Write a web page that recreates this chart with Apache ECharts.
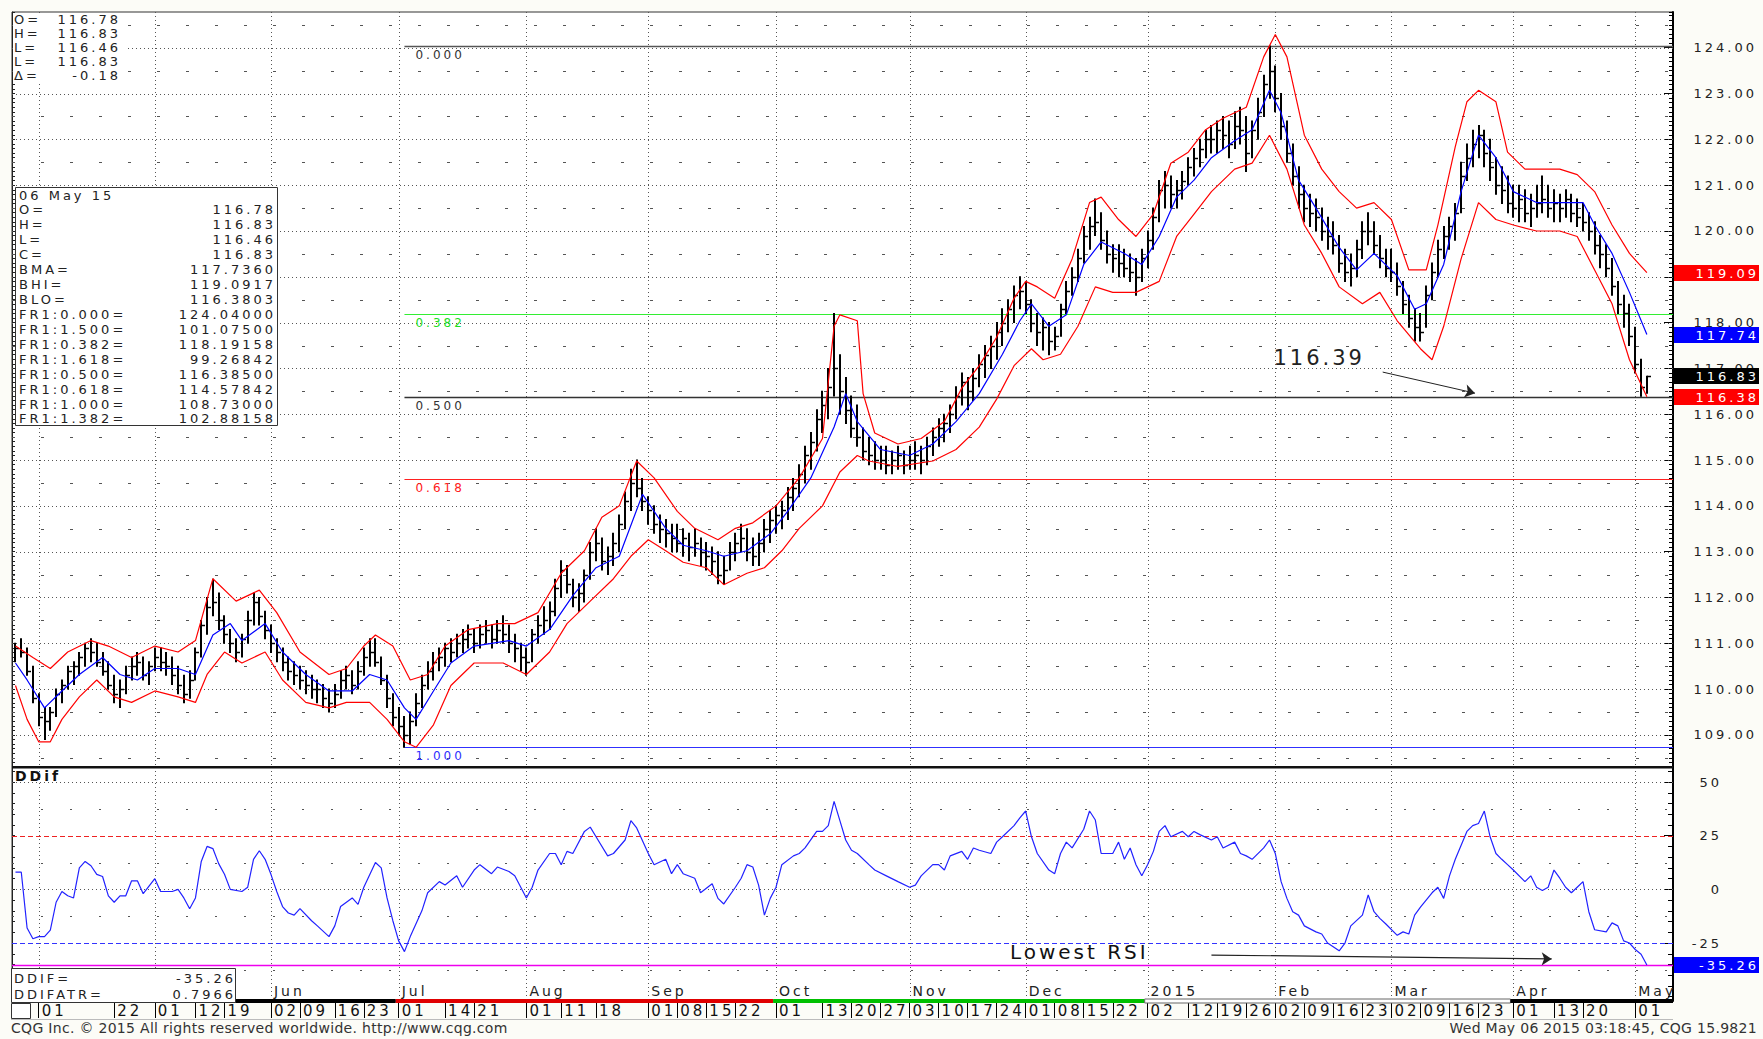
<!DOCTYPE html>
<html>
<head>
<meta charset="utf-8">
<script src="https://cdn.jsdelivr.net/npm/echarts@6.0.0/dist/echarts.min.js"></script>
<style>
html, body { margin: 0; padding: 0; background: #fcfcf7; }
#chart { position: absolute; left: 0; top: 0; width: 1763px; height: 1039px; }
#chart text { letter-spacing: 3px; }
.foot { position: absolute; top: 1020px; font: 14px "DejaVu Sans"; color: #333; letter-spacing: 0.3px; white-space: nowrap; }
</style>
</head>
<body>
<div id="chart"></div>
<div class="foot" style="left:11px">CQG Inc. © 2015 All rights reserved worldwide. http://www.cqg.com</div>
<div class="foot" style="right:6px">Wed May 06 2015 03:18:45, CQG 15.9821</div>
<script>
// daily bars, one per trading day: [high, low, close]
var bars = [
  [111.0,110.6,110.9],[111.1,110.7,110.8],[110.9,110.3,110.4],[110.5,109.7,109.8],[109.9,109.2,109.4],
  [109.6,108.9,109.3],[109.6,109.1,109.5],[110.0,109.4,109.9],[110.2,109.7,110.1],[110.5,110.0,110.4],
  [110.6,110.1,110.5],[110.8,110.3,110.7],[111.0,110.5,110.9],[111.1,110.6,110.8],[111.0,110.5,110.6],
  [110.8,110.3,110.4],[110.6,110.0,110.1],[110.3,109.7,109.9],[110.2,109.6,110.0],[110.5,109.9,110.3],
  [110.7,110.2,110.5],[110.8,110.3,110.6],[110.7,110.2,110.3],[110.6,110.1,110.5],[110.9,110.4,110.7],
  [110.9,110.4,110.6],[110.8,110.3,110.5],[110.7,110.1,110.3],[110.5,109.9,110.1],[110.3,109.7,109.9],
  [110.4,109.8,110.2],[110.9,110.2,110.8],[111.5,110.7,111.4],[112.0,111.2,111.8],[112.4,111.6,111.9],
  [112.1,111.3,111.5],[111.6,111.0,111.2],[111.3,110.8,111.0],[111.1,110.6,110.8],[111.2,110.7,111.1],
  [111.7,111.0,111.5],[112.1,111.4,111.9],[112.0,111.4,111.6],[111.7,111.1,111.3],[111.4,110.8,111.0],
  [111.1,110.6,110.8],[110.9,110.4,110.6],[110.7,110.2,110.4],[110.6,110.1,110.3],[110.5,110.0,110.2],
  [110.4,109.9,110.1],[110.3,109.8,110.0],[110.2,109.7,110.0],[110.1,109.6,109.8],[110.0,109.5,109.7],
  [110.1,109.6,109.9],[110.4,109.8,110.2],[110.5,110.0,110.3],[110.4,109.9,110.1],[110.6,110.0,110.4],
  [110.9,110.3,110.7],[111.1,110.5,110.8],[111.1,110.5,110.6],[110.7,110.1,110.2],[110.3,109.6,109.8],
  [109.9,109.2,109.4],[109.6,109.0,109.2],[109.4,108.73,109.0],[109.5,108.8,109.3],[109.9,109.2,109.7],
  [110.3,109.6,110.1],[110.6,110.0,110.4],[110.8,110.2,110.6],[110.9,110.4,110.7],[111.0,110.5,110.9],
  [111.1,110.6,110.8],[111.2,110.7,111.0],[111.3,110.8,111.1],[111.4,110.9,111.2],[111.3,110.8,111.0],
  [111.4,110.9,111.2],[111.5,111.0,111.3],[111.4,110.9,111.1],[111.5,111.0,111.3],[111.6,111.0,111.2],
  [111.4,110.8,111.0],[111.2,110.6,110.9],[111.0,110.4,110.7],[110.9,110.3,110.6],[111.3,110.6,111.2],
  [111.6,111.0,111.4],[111.8,111.2,111.5],[111.9,111.3,111.7],[112.4,111.6,112.2],[112.8,112.0,112.6],
  [112.7,112.1,112.3],[112.4,111.8,112.0],[112.3,111.7,112.1],[112.6,111.9,112.5],[113.2,112.4,113.0],
  [113.5,112.8,113.2],[113.3,112.6,112.8],[113.1,112.5,112.9],[113.4,112.7,113.2],[113.8,113.0,113.6],
  [114.3,113.5,114.1],[114.8,113.9,114.5],[115.0,114.2,114.4],[114.6,113.9,114.1],[114.2,113.6,113.9],
  [114.0,113.4,113.6],[113.8,113.2,113.5],[113.7,113.1,113.4],[113.6,113.0,113.3],[113.6,113.0,113.2],
  [113.5,112.9,113.3],[113.4,112.8,113.1],[113.5,112.9,113.2],[113.3,112.7,113.0],[113.2,112.6,112.9],
  [113.1,112.5,112.8],[113.0,112.3,112.5],[112.9,112.3,112.6],[113.2,112.6,113.0],[113.4,112.8,113.2],
  [113.6,113.0,113.3],[113.5,112.8,113.0],[113.3,112.7,112.9],[113.4,112.7,113.2],[113.7,113.0,113.5],
  [113.9,113.2,113.7],[114.0,113.4,113.8],[114.1,113.5,113.9],[114.4,113.7,114.2],[114.6,113.9,114.4],
  [114.9,114.2,114.7],[115.3,114.5,115.1],[115.6,114.8,115.4],[116.1,115.2,115.9],[116.5,115.6,116.2],
  [117.0,115.9,116.6],[118.2,116.4,117.0],[117.3,116.0,116.5],[116.8,115.8,116.1],[116.4,115.5,115.7],
  [116.2,115.3,115.5],[115.7,115.0,115.2],[115.5,114.9,115.1],[115.4,114.8,115.0],[115.3,114.8,115.0],
  [115.3,114.7,114.9],[115.2,114.7,115.0],[115.3,114.8,115.1],[115.2,114.7,114.9],[115.3,114.8,115.0],
  [115.4,114.8,115.1],[115.3,114.7,115.0],[115.5,114.9,115.3],[115.7,115.1,115.5],[115.9,115.3,115.7],
  [116.0,115.4,115.8],[116.2,115.6,116.0],[116.6,115.9,116.4],[116.9,116.2,116.7],[116.8,116.1,116.5],
  [117.0,116.3,116.8],[117.3,116.6,117.1],[117.5,116.8,117.3],[117.7,117.0,117.5],[118.0,117.2,117.8],
  [118.3,117.5,118.0],[118.5,117.8,118.3],[118.8,118.0,118.6],[119.0,118.3,118.7],[118.9,118.2,118.4],
  [118.5,117.8,118.0],[118.2,117.5,117.8],[118.1,117.4,117.9],[118.0,117.3,117.6],[117.9,117.4,117.7],
  [118.4,117.7,118.3],[118.9,118.2,118.7],[119.2,118.6,119.0],[119.6,118.9,119.4],[120.1,119.3,119.9],
  [120.3,119.6,120.1],[120.7,119.9,120.2],[120.4,119.6,119.8],[120.0,119.3,119.5],[119.7,119.1,119.4],
  [119.7,119.0,119.3],[119.6,119.0,119.2],[119.5,118.9,119.1],[119.4,118.6,119.0],[119.6,118.9,119.4],
  [120.0,119.2,119.8],[120.5,119.6,120.3],[121.1,120.2,120.9],[121.3,120.5,121.0],[121.2,120.5,120.8],
  [121.1,120.5,120.9],[121.3,120.7,121.1],[121.6,121.0,121.4],[121.8,121.2,121.6],[122.0,121.4,121.8],
  [122.2,121.6,122.0],[122.3,121.7,122.0],[122.4,121.7,122.2],[122.5,121.8,122.1],[122.4,121.6,121.9],
  [122.6,121.8,122.3],[122.7,121.9,122.2],[122.5,121.3,121.7],[122.4,121.6,122.2],[122.9,122.0,122.6],
  [123.4,122.5,123.2],[124.04,122.9,123.5],[123.6,122.6,122.9],[123.0,122.0,122.3],[122.4,121.5,121.7],
  [121.9,121.0,121.2],[121.4,120.5,120.8],[121.0,120.2,120.5],[120.8,120.1,120.4],[120.7,120.0,120.3],
  [120.5,119.8,120.0],[120.3,119.6,119.9],[120.2,119.5,119.7],[119.9,119.1,119.3],[119.6,118.9,119.1],
  [119.5,118.8,119.2],[119.8,119.0,119.6],[120.2,119.4,120.0],[120.4,119.7,120.0],[120.2,119.5,119.7],
  [119.9,119.2,119.4],[119.6,119.0,119.2],[119.6,118.9,119.1],[119.3,118.6,118.8],[118.9,118.2,118.4],
  [118.6,117.9,118.1],[118.3,117.6,117.9],[118.2,117.6,117.8],[118.8,117.9,118.6],[119.3,118.5,119.1],
  [119.8,119.0,119.6],[120.1,119.4,119.9],[120.3,119.6,120.1],[120.6,119.8,120.4],[121.5,120.4,121.2],
  [121.9,121.1,121.6],[122.2,121.4,121.9],[122.3,121.6,122.1],[122.2,121.4,121.7],[122.0,121.1,121.4],
  [121.6,120.8,121.0],[121.4,120.6,120.9],[121.2,120.4,120.6],[121.0,120.3,120.5],[121.0,120.2,120.7],
  [120.9,120.2,120.4],[120.8,120.1,120.5],[121.0,120.3,120.6],[121.2,120.4,120.7],[121.0,120.3,120.5],
  [120.9,120.2,120.6],[120.8,120.2,120.5],[120.9,120.3,120.7],[120.8,120.2,120.4],[120.7,120.1,120.3],
  [120.6,120.0,120.2],[120.4,119.8,120.0],[120.2,119.5,119.7],[119.9,119.2,119.5],[119.7,119.0,119.2],
  [119.4,118.6,118.8],[118.9,118.2,118.4],[118.6,117.9,118.2],[118.4,117.5,117.7],[117.9,116.9,117.1],
  [117.2,116.39,116.6],[116.83,116.46,116.83]
];

// band study, [bar index, value]
var bmaLine = [[0,110.57],[2,110.20],[5,109.59],[8,109.96],[11,110.32],[15,110.69],[18,110.32],[21,110.20],[24,110.45],[28,110.45],
  [31,110.32],[34,111.18],[37,111.43],[39,111.06],[43,111.43],[46,110.81],[50,110.32],[54,109.96],[58,109.96],[61,110.32],
  [64,110.20],[67,109.59],[69,109.34],[72,109.96],[75,110.57],[79,110.94],[85,111.06],[88,110.94],[92,111.30],[96,112.04],
  [100,112.65],[104,112.90],[108,114.25],[112,113.51],[115,113.14],[119,113.02],[122,112.90],[126,113.02],[130,113.39],[133,113.88],
  [137,114.61],[141,115.72],[143,116.45],[145,115.84],[149,115.23],[154,115.10],[158,115.35],[162,115.84],[166,116.45],[170,117.31],
  [173,118.04],[175,118.41],[178,117.92],[181,118.17],[184,119.27],[187,119.76],[191,119.51],[194,119.27],[197,119.88],[200,120.74],
  [203,121.11],[206,121.60],[210,121.97],[213,122.21],[216,123.07],[218,122.58],[221,121.11],[224,120.50],[228,119.64],[231,119.15],
  [234,119.51],[238,119.02],[241,118.29],[243,118.41],[246,119.27],[249,120.86],[252,122.09],[255,121.60],[258,120.86],[262,120.62],
  [266,120.62],[270,120.62],[272,120.13],[275,119.51],[278,118.66],[281,117.74]];
var bhiLine = [[0,110.94],[3,110.69],[6,110.45],[9,110.81],[13,111.06],[16,110.94],[20,110.69],[24,110.94],[28,110.81],[31,111.06],
  [34,112.41],[38,111.92],[42,112.16],[45,111.67],[49,110.81],[54,110.32],[57,110.45],[60,110.94],[62,111.18],[65,110.94],
  [68,110.20],[71,110.32],[74,110.94],[78,111.30],[83,111.43],[86,111.43],[90,111.67],[94,112.53],[98,113.02],[101,113.75],
  [104,114.00],[107,114.98],[110,114.61],[114,113.88],[117,113.51],[121,113.26],[124,113.51],[127,113.63],[131,114.00],[135,114.61],
  [139,115.47],[141,117.92],[142,118.17],[145,118.04],[146,116.45],[148,115.59],[152,115.35],[156,115.47],[160,115.84],[163,116.57],
  [166,117.06],[169,117.68],[172,118.53],[174,118.90],[176,118.78],[179,118.53],[182,119.39],[185,120.62],[187,120.74],[190,120.25],
  [193,119.88],[196,120.37],[199,121.48],[202,121.72],[205,122.21],[208,122.46],[212,122.70],[215,123.80],[217,124.29],[219,123.80],
  [222,122.09],[225,121.35],[228,120.86],[231,120.50],[234,120.62],[237,120.25],[240,119.15],[243,119.15],[245,120.13],[248,121.84],
  [250,122.82],[252,123.07],[255,122.82],[257,121.72],[260,121.35],[263,121.35],[266,121.35],[269,121.23],[272,120.86],[275,120.13],
  [278,119.51],[281,119.09]];
var bloLine = [[0,110.08],[2,109.34],[4,108.85],[6,108.85],[8,109.34],[11,109.83],[14,110.20],[17,109.83],[20,109.71],[24,109.96],
  [28,109.83],[31,109.71],[33,110.32],[36,110.81],[39,110.57],[43,110.81],[46,110.20],[50,109.71],[54,109.59],[57,109.71],
  [61,109.71],[64,109.34],[67,108.85],[69,108.73],[72,109.22],[75,110.08],[79,110.57],[84,110.57],[88,110.32],[92,110.81],
  [95,111.43],[99,111.92],[103,112.41],[106,112.90],[109,113.26],[112,113.02],[115,112.77],[119,112.65],[122,112.28],[126,112.53],
  [129,112.65],[132,113.02],[135,113.51],[139,114.00],[142,114.74],[145,115.10],[147,114.98],[152,114.86],[158,114.98],[162,115.23],
  [166,115.72],[169,116.33],[172,117.06],[175,117.43],[177,117.19],[180,117.31],[183,117.92],[186,118.78],[189,118.66],[193,118.66],
  [197,118.90],[200,119.88],[203,120.37],[206,120.86],[210,121.35],[213,121.48],[216,122.09],[219,121.35],[222,120.13],[225,119.51],
  [228,118.78],[232,118.41],[235,118.66],[238,118.04],[242,117.43],[244,117.19],[246,117.92],[249,119.39],[252,120.62],[255,120.25],
  [258,120.13],[262,120.00],[266,120.00],[269,119.88],[272,119.15],[275,118.41],[278,117.19],[281,116.38]];

// DDif oscillator, [bar index, value]
var ddifLine = [[0,8],[1,8],[2,-18],[3,-23],[4,-22],[5,-22],[6,-19],[7,-6],[8,-1],[9,-3],[10,-4],[11,10],[12,13],[13,11],[14,7],
  [15,6],[16,-3],[17,-6],[18,-3],[19,-3],[20,4],[21,4],[22,-2],[24,5],[25,-1],[27,-1],[28,0],[29,-4],[30,-9],[31,-4],[32,13],
  [33,20],[34,19],[35,12],[36,7],[37,0],[39,-1],[40,1],[41,14],[42,18],[43,14],[44,7],[45,-1],[46,-8],[47,-11],[48,-12],[49,-9],
  [51,-14.6],[52,-17],[54,-22],[55,-17],[56,-8],[58,-4],[59,-7],[60,1],[62,12.5],[63,10],[64,-4],[65,-14.6],[66,-24],[67,-29],
  [68,-22],[70,-10],[71,-1.6],[73,3.6],[74,2],[76,6.3],[77,1],[79,9],[80,11.5],[82,7.3],[83,10.4],[85,8.3],[86,6.3],[88,-4],
  [89,1],[90,9],[92,16.7],[93,16.7],[94,11.5],[95,17.7],[96,16.7],[98,27],[99,29],[100,24.5],[102,15.6],[103,16.7],[105,23],
  [106,32],[107,28.6],[109,16.7],[110,11.5],[112,14],[113,7.3],[114,11.5],[115,7.3],[117,5.2],[118,-1.6],[120,2.6],[121,-4.2],
  [122,-6.8],[124,1],[125,5.2],[126,11.5],[127,10.4],[128,2],[129,-12],[130,-4.2],[131,1],[132,11.5],[134,15.6],[135,16.7],
  [136,19.3],[138,27],[139,27],[140,29.7],[141,41],[142,32],[143,23],[144,18.2],[145,16.7],[147,11.5],[148,9],[150,6.3],[152,3.6],
  [154,1],[155,2],[156,6.3],[158,11.5],[159,11.5],[160,9],[161,15.6],[163,17.7],[164,14],[165,19.3],[166,18.2],[168,16.7],[169,22],
  [170,24.5],[172,29.7],[173,33.3],[174,36.5],[175,24.5],[176,16.7],[178,9],[179,7.3],[180,16.7],[181,22],[182,19.3],[184,28],
  [185,36.5],[186,32.3],[187,16.7],[189,16.7],[190,22],[191,14],[192,19.3],[193,11.5],[194,6.3],[195,11.5],[196,17.7],[197,27],
  [198,29.7],[199,24.5],[201,27],[202,24.5],[203,27],[204,25.5],[206,23],[207,24.5],[208,19.3],[210,22],[211,16.7],[212,15.6],
  [213,14],[215,19.3],[216,23],[217,16.7],[218,3.6],[219,-4.2],[220,-10.4],[221,-12],[222,-17],[224,-19.8],[225,-20.8],[226,-25],
  [228,-28.6],[229,-25],[230,-17],[232,-12],[233,-2.6],[234,-10.4],[235,-13.5],[236,-16],[238,-21.4],[239,-19.8],[240,-20.8],
  [241,-12],[242,-8.3],[244,-1.6],[245,1],[246,-4.2],[247,6.3],[248,14],[250,27],[251,29.7],[252,30.7],[253,36.5],[254,24.5],
  [255,16.7],[256,14],[257,11.5],[258,9],[260,3.6],[261,6.3],[262,1],[263,-0.5],[264,1],[265,9],[266,5.2],[267,1],[268,-1.6],
  [269,1],[270,3.6],[271,-10.4],[272,-18.8],[274,-19.8],[275,-15.6],[276,-17],[277,-24],[278,-25],[279,-28],[280,-30.2],[281,-35.26]];

// axes
var priceTicks = [109,110,111,112,113,114,115,116,117,118,119,120,121,122,123,124];
var priceLabels = [109,110,111,112,113,114,115,116,117,118,120,121,122,123,124]; // 119 sits under the BHI tag
var halfLevels = [108.5,109.5,110.5,111.5,112.5,113.5,114.5,115.5,116.5,117.5,118.5,119.5,120.5,121.5,122.5,123.5,124.5];
var ddifTicks = [50,25,0,-25];
var ddifMinorTicks = [-50,-45,-40,-35,-30,-25,-20,-15,-10,-5,0,5,10,15,20,25,30,35,40,45,50,55];
var ddifDotLevels = [50,0];
var ddifDashLevels = [37.5,12.5,-12.5,-37.5];
var dayTickIdx = [4,17,24,31,36,44,49,55,60,66,74,79,88,94,100,109,114,119,124,131,139,144,149,154,159,164,169,
  174,179,184,189,195,202,207,212,217,222,227,232,237,242,247,252,258,265,270,279];
var dayTickLabels = ['01','22','01','12','19','02','09','16','23','01','14','21','01','11','18','01','08','15','22',
  '01','13','20','27','03','10','17','24','01','08','15','22','02','12','19','26','02','09','16','23','02','09','16','23',
  '01','13','20','01'];
var monthIdx = [44,66,88,109,131,154,174,195,217,237,258,279];
var monthLabels = ['Jun','Jul','Aug','Sep','Oct','Nov','Dec','2015','Feb','Mar','Apr','May'];
var monthGridIdx = [4,24,44,66,88,109,131,154,174,195,217,237,258,279];
var quarterStart = [2.7,65.5,130.5,194.5,257.5];
var quarterEnd = [65.5,130.5,194.5,257.5,285.5];
var quarterColor = ['#000000','#e00000','#00c000','#ffffff','#000000'];

// fibonacci retracement
var fibStart = 67;
var fibNames = ['0.000','0.382','0.500','0.618','1.000'];
var fibValues = [124.04,118.19158,116.385,114.57842,108.73];
var fibColors = ['#555555','#33ee33','#333333','#ff2020','#3030ff'];
var fibTextColors = ['#333333','#22dd22','#333333','#ff2020','#3030ff'];

// last value tags
var tagValues = [119.09,117.74,116.83,116.38];
var tagColors = ['#ff0000','#0000ff','#000000','#ff0000'];
var ddifTagValues = [-35.26];
var ddifTagColors = ['#0000ff'];
var ddifLast = -35.26;

// text blocks
var topLabels = ['O=','H=','L=','L=','\u0394='];
var topValues = ['116.78','116.83','116.46','116.83','-0.18'];
var infoLabels = ['06 May 15','O=','H=','L=','C=','BMA=','BHI=','BLO=','FR1:0.000=','FR1:1.500=','FR1:0.382=',
  'FR1:1.618=','FR1:0.500=','FR1:0.618=','FR1:1.000=','FR1:1.382='];
var infoValues = ['','116.78','116.83','116.46','116.83','117.7360','119.0917','116.3803','124.04000','101.07500',
  '118.19158','99.26842','116.38500','114.57842','108.73000','102.88158'];

var X_MIN = -0.6, X_MAX = 285.5;
var FONT = '13px "DejaVu Sans"';

var chart = echarts.init(document.getElementById('chart'), null, { renderer: 'svg' });

function levelSeries(levels, stroke, dash, width, yi) {
  return {
    type: 'custom', xAxisIndex: yi === 1 ? 0 : 1, yAxisIndex: yi, z: 1, silent: true, clip: false,
    data: levels.map(function (v) { return [0, v]; }),
    renderItem: function (params, api) {
      var cs = params.coordSys;
      var y = Math.round(api.coord([0, api.value(1)])[1]) + 0.5;
      return { type: 'line', shape: { x1: cs.x, y1: y, x2: cs.x + cs.width, y2: y },
        style: { stroke: stroke, lineWidth: width, lineDash: dash } };
    }
  };
}

function monthSeries(xi, yi) {
  return {
    type: 'custom', xAxisIndex: xi, yAxisIndex: yi, z: 1, silent: true, clip: false,
    data: monthGridIdx.map(function (i) { return [i, 0]; }),
    renderItem: function (params, api) {
      var cs = params.coordSys;
      var x = Math.round(api.coord([api.value(0), 0])[0]) + 0.5;
      return { type: 'line', shape: { x1: x, y1: cs.y, x2: x, y2: cs.y + cs.height },
        style: { stroke: '#555', lineWidth: 1, lineDash: [1, 3] } };
    }
  };
}

function tagSeries(values, colors, xi, yi) {
  return {
    type: 'custom', xAxisIndex: xi, yAxisIndex: yi, z: 20, silent: true, clip: false,
    data: values.map(function (v) { return [0, v]; }),
    renderItem: function (params, api) {
      var k = params.dataIndex, cs = params.coordSys;
      var y = api.coord([0, values[k]])[1];
      var x = cs.x + cs.width + 1;
      return { type: 'group', children: [
        { type: 'rect', shape: { x: x, y: Math.round(y) - 8, width: 85, height: 16 }, style: { fill: colors[k] } },
        { type: 'text', x: x + 85, y: Math.round(y), style: { text: values[k].toFixed(2), fill: '#fff', font: FONT,
          align: 'right', verticalAlign: 'middle' } }
      ] };
    }
  };
}

function barItem(params, api) {
  var i = api.value(0);
  var hi = api.coord([i, api.value(1)]);
  var lo = api.coord([i, api.value(2)]);
  var cl = api.coord([i, api.value(3)]);
  var x = Math.round(hi[0]);
  return { type: 'group', children: [
    { type: 'line', shape: { x1: x, y1: hi[1] - 0.5, x2: x, y2: lo[1] + 0.5 }, style: { stroke: '#000', lineWidth: 2 } },
    { type: 'line', shape: { x1: x, y1: Math.round(cl[1]) + 0.5, x2: x + 4, y2: Math.round(cl[1]) + 0.5 },
      style: { stroke: '#000', lineWidth: 1.5 } }
  ] };
}

function fibItem(params, api) {
  var k = params.dataIndex, cs = params.coordSys;
  var p = api.coord([fibStart, fibValues[k]]);
  var y = Math.round(p[1]) + 0.5;
  return { type: 'group', children: [
    { type: 'line', shape: { x1: p[0], y1: y, x2: cs.x + cs.width, y2: y },
      style: { stroke: fibColors[k], lineWidth: k === 0 || k === 2 ? 1.5 : 1.2 } },
    { type: 'text', x: p[0] + 11, y: y + 2, style: { text: fibNames[k], fill: fibTextColors[k],
      font: '12px "DejaVu Sans"', align: 'left', verticalAlign: 'top' } }
  ] };
}

function quarterItem(params, api) {
  var k = params.dataIndex, cs = params.coordSys;
  var a = api.coord([quarterStart[k], 0])[0];
  var b = api.coord([quarterEnd[k], 0])[0];
  b = Math.min(b, cs.x + cs.width);
  var y = cs.y + cs.height;
  var hollow = quarterColor[k] === '#ffffff';
  return { type: 'rect', shape: { x: a, y: y - 2, width: b - a, height: 4 },
    style: { fill: quarterColor[k], stroke: hollow ? '#666' : null, lineWidth: hollow ? 1 : 0 } };
}

var gridText = [];
gridText.push({ type: 'rect', shape: { x: 13, y: 13, width: 112, height: 70 }, style: { fill: '#ffffff' }, z: 90 });
topLabels.forEach(function (t, k) {
  gridText.push({ type: 'text', x: 14, y: 19 + k * 14, style: { text: t, fill: '#222', font: FONT, verticalAlign: 'middle' }, z: 91 });
  gridText.push({ type: 'text', x: 121, y: 19 + k * 14, style: { text: topValues[k], fill: '#222', font: FONT,
    align: 'right', verticalAlign: 'middle' }, z: 91 });
});
gridText.push({ type: 'rect', shape: { x: 15.5, y: 187.5, width: 262, height: 238 },
  style: { fill: '#ffffff', stroke: '#333', lineWidth: 1 }, z: 90 });
infoLabels.forEach(function (t, k) {
  gridText.push({ type: 'text', x: 19, y: 195 + k * 14.93, style: { text: t, fill: '#222', font: FONT, verticalAlign: 'middle' }, z: 91 });
  gridText.push({ type: 'text', x: 276, y: 195 + k * 14.93, style: { text: infoValues[k], fill: '#222', font: FONT,
    align: 'right', verticalAlign: 'middle' }, z: 91 });
});
gridText.push({ type: 'rect', shape: { x: 12, y: 766, width: 1661, height: 2.5 }, style: { fill: '#111' }, z: 80 });
gridText.push({ type: 'text', x: 15, y: 776, style: { text: 'DDif', fill: '#111', font: 'bold 14px "DejaVu Sans"',
  verticalAlign: 'middle' }, z: 91 });
gridText.push({ type: 'rect', shape: { x: 11.5, y: 968.5, width: 224, height: 34 },
  style: { fill: '#ffffff', stroke: '#333', lineWidth: 1 }, z: 90 });
gridText.push({ type: 'text', x: 14, y: 978, style: { text: 'DDIF=', fill: '#222', font: FONT, verticalAlign: 'middle' }, z: 91 });
gridText.push({ type: 'text', x: 236, y: 978, style: { text: ddifLast.toFixed(2), fill: '#222', font: FONT, align: 'right',
  verticalAlign: 'middle' }, z: 91 });
gridText.push({ type: 'text', x: 14, y: 994, style: { text: 'DDIFATR=', fill: '#222', font: FONT, verticalAlign: 'middle' }, z: 91 });
gridText.push({ type: 'text', x: 236, y: 994, style: { text: '0.7966', fill: '#222', font: FONT, align: 'right',
  verticalAlign: 'middle' }, z: 91 });
gridText.push({ type: 'rect', shape: { x: 11.5, y: 1003.5, width: 19, height: 15 },
  style: { fill: '#ffffff', stroke: '#333', lineWidth: 1 }, z: 90 });
gridText.push({ type: 'line', shape: { x1: 11, y1: 1019.5, x2: 1673, y2: 1019.5 }, style: { stroke: '#bbb', lineWidth: 1 }, z: 80 });

var xBase = { type: 'value', min: X_MIN, max: X_MAX, splitLine: { show: false } };

var option = {
  animation: false,
  backgroundColor: '#fcfcf7',
  textStyle: { fontFamily: 'DejaVu Sans' },
  grid: [
    { left: 12, top: 12, width: 1661, height: 755, show: true, backgroundColor: '#ffffff', borderColor: '#333', borderWidth: 1, outerBoundsMode: 'none' },
    { left: 12, top: 767, width: 1661, height: 234, show: true, backgroundColor: '#ffffff', borderColor: '#333', borderWidth: 1, outerBoundsMode: 'none' }
  ],
  xAxis: [
    Object.assign({}, xBase, { gridIndex: 0, show: false }),
    Object.assign({}, xBase, { gridIndex: 1, position: 'bottom', axisLine: { show: false, onZero: false },
      axisTick: { show: true, customValues: dayTickIdx, length: 17, lineStyle: { color: '#000' } },
      axisLabel: { customValues: dayTickIdx, align: 'left', margin: 2, padding: [0, 0, 0, 3], fontSize: 15, color: '#111',
        formatter: function (v) { var k = dayTickIdx.indexOf(v); return k >= 0 ? dayTickLabels[k] : ''; } } }),
    Object.assign({}, xBase, { gridIndex: 1, position: 'bottom', axisLine: { show: false, onZero: false }, axisTick: { show: false },
      axisLabel: { inside: true, customValues: monthIdx, align: 'left', margin: 3, padding: [0, 0, 0, 3], fontSize: 14, color: '#222',
        formatter: function (v) { var k = monthIdx.indexOf(v); return k >= 0 ? monthLabels[k] : ''; } } })
  ],
  yAxis: [
    { gridIndex: 0, type: 'value', position: 'right', min: 108.3, max: 124.78, interval: 0.1,
      axisLine: { show: true, onZero: false, lineStyle: { color: '#000', width: 2 } },
      axisTick: { show: true, inside: true, length: 4, lineStyle: { color: '#000' } },
      axisLabel: { show: false }, splitLine: { show: false } },
    { gridIndex: 0, type: 'value', position: 'right', min: 108.3, max: 124.78,
      axisLine: { show: false, onZero: false },
      axisTick: { show: true, inside: true, length: 9, customValues: priceTicks, lineStyle: { color: '#000' } },
      axisLabel: { customValues: priceLabels, margin: 84, align: 'right', fontSize: 13, color: '#222',
        formatter: function (v) { return v.toFixed(2); } },
      splitLine: { show: false } },
    { gridIndex: 0, type: 'value', position: 'left', min: 108.3, max: 124.78, interval: 0.1,
      axisLine: { show: true, onZero: false, lineStyle: { color: '#222', width: 1 } },
      axisTick: { show: true, inside: true, length: 3, lineStyle: { color: '#222' } },
      axisLabel: { show: false }, splitLine: { show: false } },
    { gridIndex: 1, type: 'value', position: 'right', min: -52, max: 57,
      axisLine: { show: true, onZero: false, lineStyle: { color: '#000', width: 2 } },
      axisTick: { show: true, inside: true, length: 5, customValues: ddifMinorTicks, lineStyle: { color: '#000' } },
      axisLabel: { show: false }, splitLine: { show: false } },
    { gridIndex: 1, type: 'value', position: 'right', min: -52, max: 57,
      axisLine: { show: false, onZero: false },
      axisTick: { show: true, inside: true, length: 9, customValues: ddifTicks, lineStyle: { color: '#000' } },
      axisLabel: { customValues: ddifTicks, margin: 49, align: 'right', fontSize: 13, color: '#222' },
      splitLine: { show: false } },
    { gridIndex: 1, type: 'value', position: 'left', min: -52, max: 57,
      axisLine: { show: true, onZero: false, lineStyle: { color: '#222', width: 1 } },
      axisTick: { show: true, inside: true, length: 3, customValues: ddifMinorTicks, lineStyle: { color: '#222' } },
      axisLabel: { show: false }, splitLine: { show: false } }
  ],
  graphic: { elements: gridText },
  series: [
    levelSeries(priceTicks, '#555', [1, 3], 1, 1),
    levelSeries(halfLevels, '#555', [3, 26], 1, 1),
    monthSeries(0, 1),
    { type: 'custom', xAxisIndex: 0, yAxisIndex: 1, z: 2, silent: true, clip: false,
      data: fibValues.map(function (v) { return [fibStart, v]; }), renderItem: fibItem },
    { type: 'custom', name: 'bars', xAxisIndex: 0, yAxisIndex: 1, z: 3, silent: true,
      data: bars.map(function (b, i) { return [i, b[0], b[1], b[2]]; }),
      encode: { x: 0, y: [1, 2, 3] }, renderItem: barItem },
    { type: 'line', name: 'BHI', xAxisIndex: 0, yAxisIndex: 1, z: 4, data: bhiLine, symbol: 'none', silent: true,
      lineStyle: { color: '#ff0000', width: 1.2 } },
    { type: 'line', name: 'BLO', xAxisIndex: 0, yAxisIndex: 1, z: 4, data: bloLine, symbol: 'none', silent: true,
      lineStyle: { color: '#ff0000', width: 1.2 } },
    { type: 'line', name: 'BMA', xAxisIndex: 0, yAxisIndex: 1, z: 4, data: bmaLine, symbol: 'none', silent: true,
      lineStyle: { color: '#0000ff', width: 1.2 },
      markLine: { silent: true, symbol: ['none', 'arrow'], symbolSize: 10, label: { show: false },
        lineStyle: { color: '#222', width: 1, type: 'solid' },
        data: [[{ coord: [235.5, 116.92] }, { coord: [251.4, 116.46] }]] },
      markPoint: { silent: true, symbol: 'circle', symbolSize: 1, itemStyle: { color: 'rgba(0,0,0,0)' },
        label: { show: true, position: 'right', distance: 0, formatter: '116.39', fontSize: 21, color: '#222' },
        data: [{ coord: [216.6, 117.22] }] } },
    tagSeries(tagValues, tagColors, 0, 1),

    levelSeries(ddifDotLevels, '#555', [1, 3], 1, 4),
    levelSeries(ddifDashLevels, '#555', [2, 27], 1, 4),
    levelSeries([25], '#ee2222', [5, 3], 1, 4),
    levelSeries([-25], '#3333ff', [5, 3], 1, 4),
    levelSeries([ddifLast], '#ee00ee', null, 1.5, 4),
    monthSeries(1, 4),
    { type: 'line', name: 'DDif', xAxisIndex: 1, yAxisIndex: 4, z: 4, data: ddifLine, symbol: 'none', silent: true,
      lineStyle: { color: '#2222ff', width: 1.2 },
      markLine: { silent: true, symbol: ['none', 'arrow'], symbolSize: 10, label: { show: false },
        lineStyle: { color: '#222', width: 1.2, type: 'solid' },
        data: [[{ coord: [206, -30.6] }, { coord: [264.6, -32.4] }]] },
      markPoint: { silent: true, symbol: 'circle', symbolSize: 1, itemStyle: { color: 'rgba(0,0,0,0)' },
        label: { show: true, position: 'right', distance: 0, formatter: 'Lowest RSI', fontSize: 20, color: '#111' },
        data: [{ coord: [171.2, -29.4] }] } },
    tagSeries(ddifTagValues, ddifTagColors, 1, 4),
    { type: 'custom', xAxisIndex: 1, yAxisIndex: 4, z: 6, silent: true, clip: false,
      data: quarterStart.map(function (s, k) { return [s, quarterEnd[k]]; }), renderItem: quarterItem }
  ]
};

chart.setOption(option);
</script>
</body>
</html>
